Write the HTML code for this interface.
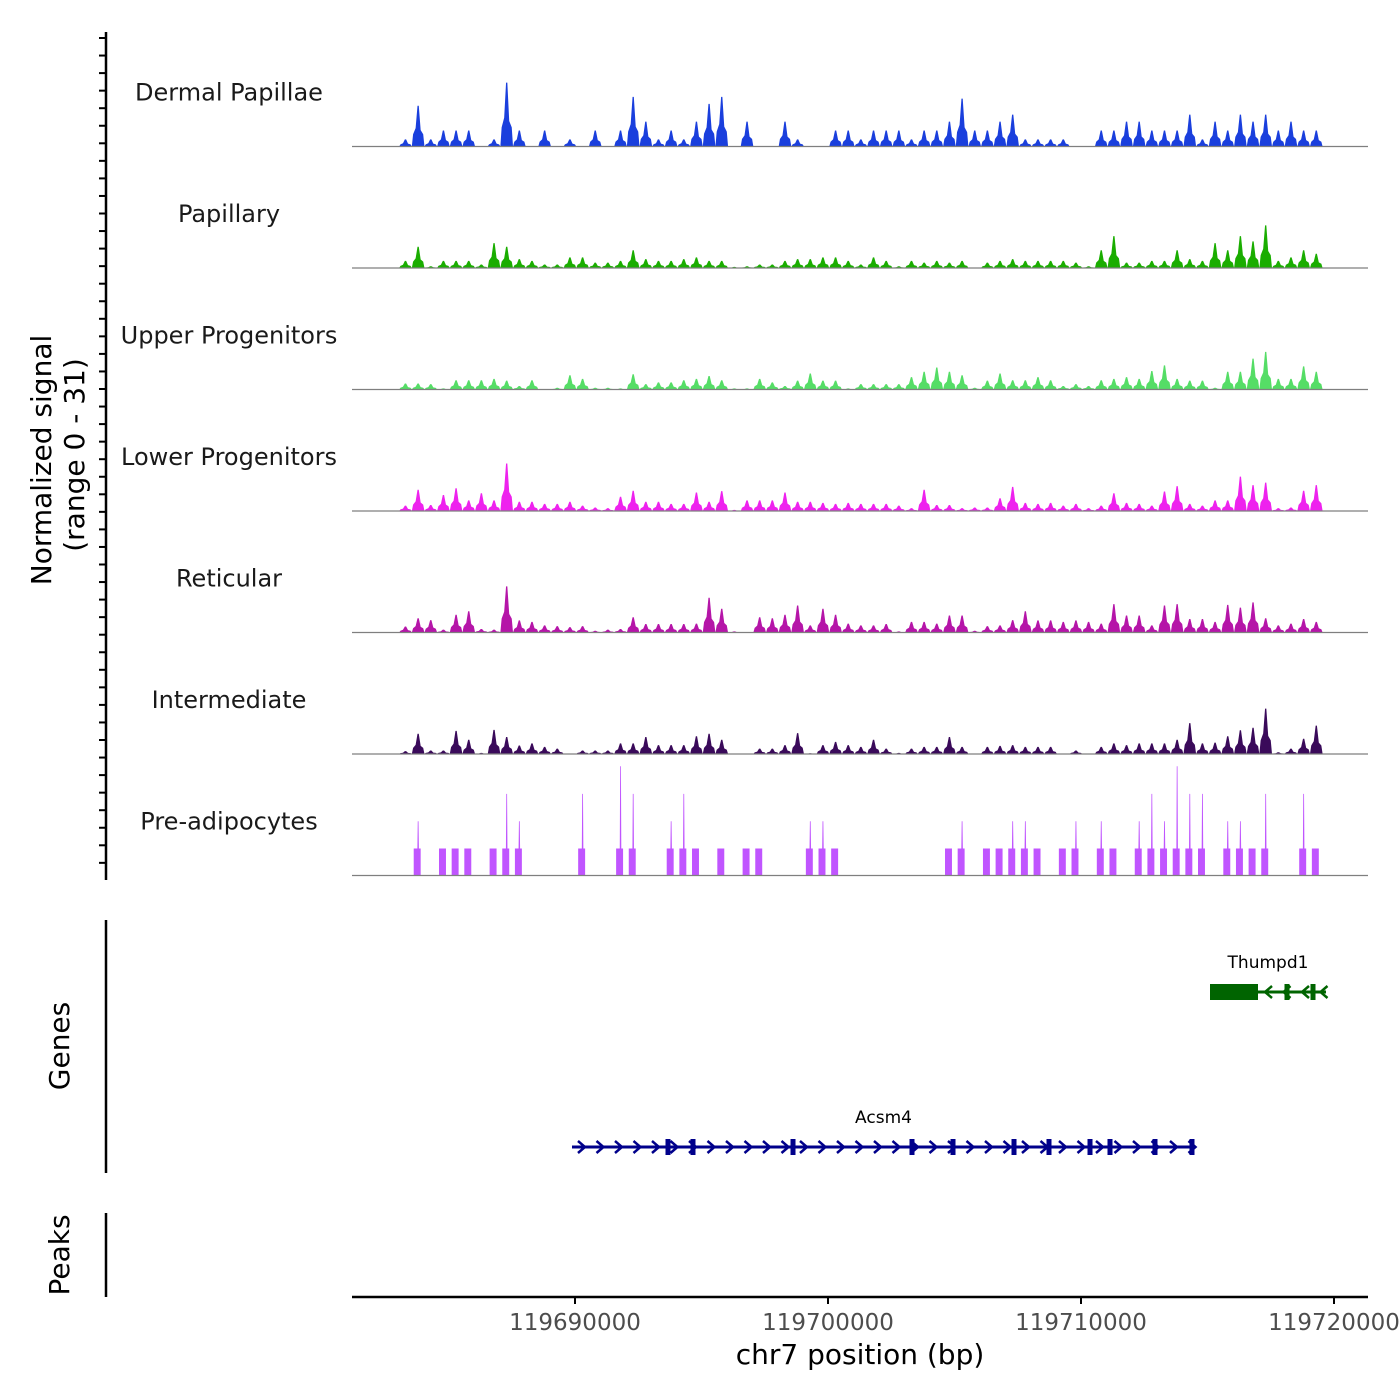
<!DOCTYPE html>
<html><head><meta charset="utf-8"><style>
html,body{margin:0;padding:0;background:#fff;}
svg{display:block;font-family:"DejaVu Sans","Liberation Sans",sans-serif;}
</style></head><body>
<svg id="chart" width="1400" height="1400" viewBox="0 0 1400 1400" xmlns="http://www.w3.org/2000/svg">
<g id="tracks"></g>
<g id="yaxis">
<line x1="106" y1="32" x2="106" y2="880" stroke="#000" stroke-width="2.5"/>
</g>
<text transform="translate(51,460) rotate(-90)" text-anchor="middle" font-size="28" fill="#000">Normalized signal</text>
<text transform="translate(84,455) rotate(-90)" text-anchor="middle" font-size="28" fill="#000">(range 0 - 31)</text>
<g>
<line x1="106" y1="920" x2="106" y2="1173" stroke="#000" stroke-width="2.5"/>
<text transform="translate(69,1046) rotate(-90)" text-anchor="middle" font-size="28">Genes</text>
<g id="genes"></g>
</g>
<g>
<line x1="106" y1="1213" x2="106" y2="1297" stroke="#000" stroke-width="2.5"/>
<text transform="translate(69,1255) rotate(-90)" text-anchor="middle" font-size="28">Peaks</text>
</g>
<g id="xaxis">
<line x1="352" y1="1297" x2="1368" y2="1297" stroke="#000" stroke-width="2.5"/>
</g>
<text x="860" y="1364" text-anchor="middle" font-size="28">chr7 position (bp)</text>
</svg>
<script>
// ---- data ----
const binStart = 119683050;
const binWidth = 500;
const trackNames = ["Dermal Papillae","Papillary","Upper Progenitors","Lower Progenitors","Reticular","Intermediate","Pre-adipocytes"];
const trackColors = ["#1a3fdd","#1aad00","#55dd66","#ee22ee","#b515a8","#3a0a5a","#c055ff"];
const dermal = [2,11.5,2,4.5,4.5,4.5,0,2,18,4.5,0,4.5,0,2,0,4.5,0,4.5,14,7,2,4.5,2,7,12,14,0,7,0,0,7,2,0,0,4.5,4.5,2,4.5,4.5,4.5,2,4.5,4.5,7,13.5,4.5,4.5,7,9,2,2,2,2,0,0,4.5,4.5,7,7,4.5,4.5,4.5,9,2,7,4.5,9,7,9,4.5,7,4.5,4.5,0];
const papillary = [2,6,0.5,2,2,2,1,7,6,2.5,2,1,1,3,3,1.5,1.5,2,5,2.5,2,2,2.5,3,2,2,0.3,0.5,1,1,2,2.5,2.5,3,3,2,1,3,2,0.5,2,1.5,2,1.5,2,0,1.5,2,2.5,2,2,2,2,1.5,0.5,5,9,1.5,1.5,2,2,5,2.5,2,7,5,9,7.5,12,2,3,5,4,0];
const upper = [1.7,1.7,1.5,0.3,2.6,2.6,2.6,3,2.5,1,2.6,0,0.5,4,3,0.5,0.5,0.3,4.3,1.5,2,2,2.6,3,3.8,2.6,0.3,0.3,3,2,1,2.5,4.5,2.5,2.5,0.3,1.5,1.5,1.5,1.5,3.5,5,6.2,5,4,0.5,2.5,4.5,2.6,2.6,3.5,2.6,1,1.5,1,2.6,3,3.5,3,5.2,6.8,3,2.5,2.5,0.5,5,5,8.7,10.6,3,3,6.5,5,0];
const lower = [1.5,6,1.7,4.5,6.4,3,5,3,13.4,2.6,2.6,2,2,2.6,1.5,1,0.8,4,5.7,2.6,2.6,2,2,5.2,2.6,5.6,0.3,3,3,3,5.2,2.6,2.6,2.3,2,2.3,2,2,2,1.5,0.8,6,1.7,1.7,0.8,1,1,3.6,6.8,2.3,2,2.3,1.5,2,0.8,1.5,5,2.3,2,1.5,5.5,7,2,1.5,3,3,9.7,7.3,8,0.8,1,5.7,7.3,0];
const reticular = [1.7,4,3.5,0.8,5,6,1,0.8,13,3.4,3,2,1.8,1.5,1.8,0.5,0.8,1,4.3,2.4,2.4,2.4,2.4,2.5,9.8,6.7,0.3,0,4.3,4,5,7.6,2,6.7,5,2.5,2,2,2.4,0.3,3,3,2.5,4.8,4.8,0.5,1.8,2,3.5,6,3.4,3.4,3,3.4,3,2.5,8,4.8,4.8,2,7.6,8,3.8,3.8,3,7.8,7,8.5,4,2,2.5,3.8,3,0];
const intermediate = [0.8,5.7,1,1,6.5,4,0.3,6.8,4.8,2.4,3,2,1.5,0,1,1,1,3,3,4.8,2.5,2.5,2.5,5,5.7,4,0,0,1.5,1.5,2.5,5.9,0.2,2.5,3.4,2.5,2,4,1.5,0.3,1.5,2,2,4.8,2,0,2,2.3,2.5,2,2,2,0,1,0,2,3,2.5,3,3,3,4,8.7,3,3.2,5,6.7,7.4,12.8,0.5,1.5,4.3,8,0];
const preadipocytes = [0,15.3,0,7.6,7.6,7.6,0,7.6,23,15.3,0,0,0,0,23,0,0,30.8,23,0,0,15.3,23,7.6,0,7.6,0,7.6,7.6,0,0,0,15.3,15.3,7.6,0,0,0,0,0,0,0,0,7.6,15.3,0,7.6,7.6,15.3,15.3,7.6,0,7.6,15.3,0,15.3,7.6,0,15.3,23,15.3,30.8,23,23,0,15.3,15.3,7.6,23,0,0,23,7.6,0];
const trackValues = [dermal,papillary,upper,lower,reticular,intermediate,preadipocytes];
const xTicks = [119690000,119700000,119710000,119720000];
const xTickLabels = ["119690000","119700000","119710000","119720000"];
const yMax = 31;
// genes
const thumpd1Exons = [119718142,119719170];
const acsm4Exons = [119693676,119694664,119698617,119703320,119704941,119707352,119708735,119710356,119711146,119712925,119714387];

// ---- scales ----
const NS="http://www.w3.org/2000/svg";
function xScale(p){return 575 + (p-119690000)*0.0253;}
const trackTop0 = 25, trackH = 121.5;
function baseY(i){return trackTop0 + trackH*(i+1);}
function yScale(v,i){return baseY(i) - v/yMax*110;}
function mk(tag,attrs,parent){const e=document.createElementNS(NS,tag);for(const k in attrs)e.setAttribute(k,attrs[k]);parent.appendChild(e);return e;}

const tracks=document.getElementById('tracks');
trackValues.forEach((vals,i)=>{
  const g=mk('g',{},tracks);
  
  
  const b=baseY(i);
  let d='';
  vals.forEach((v,j)=>{
    if(v<=0) return;
    const x0=xScale(binStart+j*binWidth), x1=xScale(binStart+(j+1)*binWidth), w=x1-x0;
    const t=yScale(v,i);
    if(i===6){
      const lv=yScale(Math.min(v,7.6),i);
      d+=`M${x0+0.15*w},${b}L${x0+0.15*w},${lv}L${x0+0.44*w},${lv}L${x0+0.47*w},${t}L${x0+0.53*w},${t}L${x0+0.56*w},${lv}L${x0+0.7*w},${lv}L${x0+0.7*w},${b}Z`;
    } else {
      const sh=yScale(v*0.3,i);
      d+=`M${x0},${b}L${x0+0.1*w},${sh}L${x0+0.3*w},${yScale(v*0.45,i)}L${x0+0.45*w},${t}L${x0+0.55*w},${t}L${x0+0.7*w},${yScale(v*0.4,i)}L${x0+0.9*w},${sh}L${x1},${b}Z`;
    }
  });
  const p=mk('path',{d:d,fill:trackColors[i]},g);
  
  
  const ln=mk('line',{x1:352,x2:1368,y1:b,y2:b,stroke:'#7f7f7f','stroke-width':1.2},g);
  
  
  const lab=mk('text',{x:229,y:b-46,'text-anchor':'middle','font-size':24,fill:'#1a1a1a'},g);
  
  
  lab.textContent=trackNames[i];
});

// left y-axis ticks
const yax=document.getElementById('yaxis');
for(let y=38;y<=880;y+=17.55){
  const t=mk('line',{x1:99,x2:106,y1:y,y2:y,stroke:'#000','stroke-width':2},yax);
  
  
}

// x axis
const xax=document.getElementById('xaxis');
xTicks.forEach((p,k)=>{
  const x=xScale(p);
  const t=mk('line',{x1:x,x2:x,y1:1297,y2:1304,stroke:'#000','stroke-width':2},xax);
  
  
  const l=mk('text',{x:x,y:1330,'text-anchor':'middle','font-size':23,fill:'#4d4d4d'},xax);
  
  
  l.textContent=xTickLabels[k];
});

// genes
const genes=document.getElementById('genes');
function gene(name,start,end,y,color,dir,exons,thick){
  const g=mk('g',{},genes);
  
  
  const x0=xScale(start),x1=xScale(end);
  mk('line',{x1:x0,x2:x1,y1:y,y2:y,stroke:color,'stroke-width':3},g);
  const ax0 = thick ? xScale(thick[1]) : x0;
  for(let x=ax0+10;x<x1-2;x+=18.5){
    const a=dir>0?`M${x-4},${y-6}L${x+3},${y}L${x-4},${y+6}`:`M${x+4},${y-6}L${x-3},${y}L${x+4},${y+6}`;
    mk('path',{d:a,stroke:color,'stroke-width':2.5,fill:'none'},g);
  }
  exons.forEach(e=>{const x=xScale(e);mk('rect',{x:x-2.5,y:y-8,width:5,height:16,fill:color},g);});
  if(thick) mk('rect',{x:xScale(thick[0]),y:y-8,width:xScale(thick[1])-xScale(thick[0]),height:16,fill:color},g);
  const l=mk('text',{x:(x0+x1)/2,y:y-24,'text-anchor':'middle','font-size':17,fill:'#000'},g);
  
  
  l.textContent=name;
}
gene('Thumpd1',119715099,119719684,992,'#006400',-1,thumpd1Exons,[119715099,119716996]);
gene('Acsm4',119689881,119714506,1147,'#00008b',1,acsm4Exons,null);
</script>
</body></html>
